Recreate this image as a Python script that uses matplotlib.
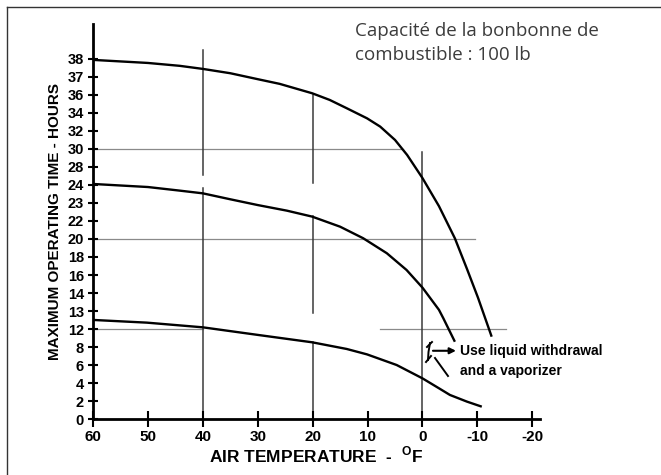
import numpy as np
import matplotlib.pyplot as plt
from matplotlib.lines import Line2D

plt.rcParams['mathtext.fontset'] = 'custom'
plt.rcParams['mathtext.rm'] = 'Liberation Sans:bold'
plt.rcParams['mathtext.bf'] = 'Liberation Sans:bold'

# y axis is not linear: every labelled value sits one step apart
tick_hours = [0, 2, 4, 6, 8, 12, 13, 14, 16, 18, 20, 22, 23, 24, 28, 30, 32, 34, 36, 37, 38]
scale_hours = tick_hours + [40, 42]
scale_pos = list(range(len(scale_hours)))

x_ticks = [60, 50, 40, 30, 20, 10, 0, -10, -20]

# curves (deg F, hours)
top_t = [60, 50, 44.2, 40, 35, 30, 26, 20.1, 16.9, 13.8, 10.1, 7.7, 5, 2.8, 0,
         -3, -5.9, -8.1, -10.1, -12.6]
top_h = [37.93, 37.76, 37.6, 37.43, 37.19, 36.86, 36.6, 36.08, 35.42, 34.5, 33.38, 32.46,
         30.98, 29.32, 25.5, 22.82, 20.07, 16.68, 13.75, 10.32]

mid_t = [60, 50, 44.2, 40, 35, 30, 24.7, 20.1, 15, 10.8, 6.5, 2.9, 0, -3, -3.8, -5.9]
mid_h = [24.2, 23.88, 23.68, 23.53, 23.2, 22.88, 22.57, 22.24, 21.36, 20.08, 18.42, 16.56,
         14.6, 13.07, 12.6, 9.2]

low_t = [60, 50.2, 40, 30, 20.1, 13.8, 10.1, 4.7, 0, -3, -5, -8.1, -10.8]
low_h = [12.51, 12.36, 12.1, 10.72, 9.08, 7.8, 7.2, 6.02, 4.54, 3.44, 2.7, 1.96, 1.4]

# reference lines: (value, start, end)
h_lines = [(30, 60, 3.5), (20, 60, -9.6), (12, 60, 40), (12, 7.7, -15.2)]
v_lines = [(40, 38.96, 26.2), (40, 23.83, 0), (20, 35.96, 24.44), (20, 22.27, 12.9),
           (20, 9.16, 0), (0, 29.68, 0)]


def fwd(v):
    return np.interp(v, scale_hours, scale_pos)


def inv(p):
    return np.interp(p, scale_pos, scale_hours)


fig = plt.figure(figsize=(6.61, 4.75), dpi=100)
ax = fig.add_axes([93 / 661, 1 - 419.3 / 475, (540 - 93) / 661, (419.3 - 24) / 475])
ax.set_yscale('function', functions=(fwd, inv))
ax.set_xlim(60, -21.4)
ax.set_ylim(0, 41.84)

for y, x0, x1 in h_lines:
    ax.plot([x0, x1], [y, y], color='#8a8a8a', lw=0.9, zorder=1)
for x, y0, y1 in v_lines:
    ax.plot([x, x], [y0, y1], color='#3a3a3a', lw=1.1, zorder=1)

for t, h in [(top_t, top_h), (mid_t, mid_h), (low_t, low_h)]:
    ax.plot(t, h, color='black', lw=1.7, zorder=3, solid_capstyle='butt',
            solid_joinstyle='round')

ax.set_yticks(tick_hours)
ax.set_yticklabels([str(v) for v in tick_hours])
ax.set_xticks(x_ticks)
ax.set_xticklabels([str(v) for v in x_ticks])
ax.tick_params(axis='y', direction='inout', length=7, width=1.5, pad=3, labelsize=10.5)
ax.tick_params(axis='x', direction='inout', length=12, width=1.5, pad=2, labelsize=11)
for lab in ax.get_xticklabels() + ax.get_yticklabels():
    lab.set_fontfamily('Liberation Sans')
    lab.set_fontweight('bold')

for s in ['top', 'right']:
    ax.spines[s].set_visible(False)
for s in ['left', 'bottom']:
    ax.spines[s].set_linewidth(2)

ax.set_xlabel(r'AIR TEMPERATURE  -  $^{\rm O}$F', fontfamily='Liberation Sans',
              fontweight='bold', fontsize=12.5, labelpad=0)
ax.set_ylabel('MAXIMUM OPERATING TIME - HOURS', fontfamily='Liberation Sans',
              fontweight='bold', fontsize=11, labelpad=4)

# note about liquid withdrawal
ax.annotate('', xy=(-6.6, 7.6), xytext=(-1.4, 7.6),
            arrowprops=dict(arrowstyle='-|>', color='black', lw=1.5, mutation_scale=9))
ax.text(-6.8, 7.6, 'Use liquid withdrawal', fontfamily='Liberation Sans', fontweight='bold',
        fontsize=10, va='center', ha='left')
ax.text(-6.8, 5.4, 'and a vaporizer', fontfamily='Liberation Sans', fontweight='bold',
        fontsize=10, va='center', ha='left')


def px(xp, yp):
    return (xp - 93) / (540 - 93), (419.3 - yp) / (419.3 - 24)


for seg in [[(427, 347), (432, 342)], [(426, 362), (431, 356)],
            [(430, 343), (428.5, 352), (428, 360)], [(435, 358), (448, 376)]]:
    pts = [px(a, b) for a, b in seg]
    ax.plot([p[0] for p in pts], [p[1] for p in pts], transform=ax.transAxes,
            color='black', lw=1.4, clip_on=False)

fig.text(355 / 661, 1 - 60 / 475, 'Capacité de la bonbonne de\ncombustible : 100 lb',
         fontfamily='Open Sans', fontsize=13.5, color='#3c3c3c', va='baseline',
         ha='left', linespacing=1.45)

fig.add_artist(Line2D([7 / 661, 7 / 661], [0, 1 - 7 / 475], color='#333333', lw=1))
fig.add_artist(Line2D([7 / 661, 1], [1 - 7 / 475, 1 - 7 / 475], color='#333333', lw=1))

fig.savefig('out.png', dpi=100)
